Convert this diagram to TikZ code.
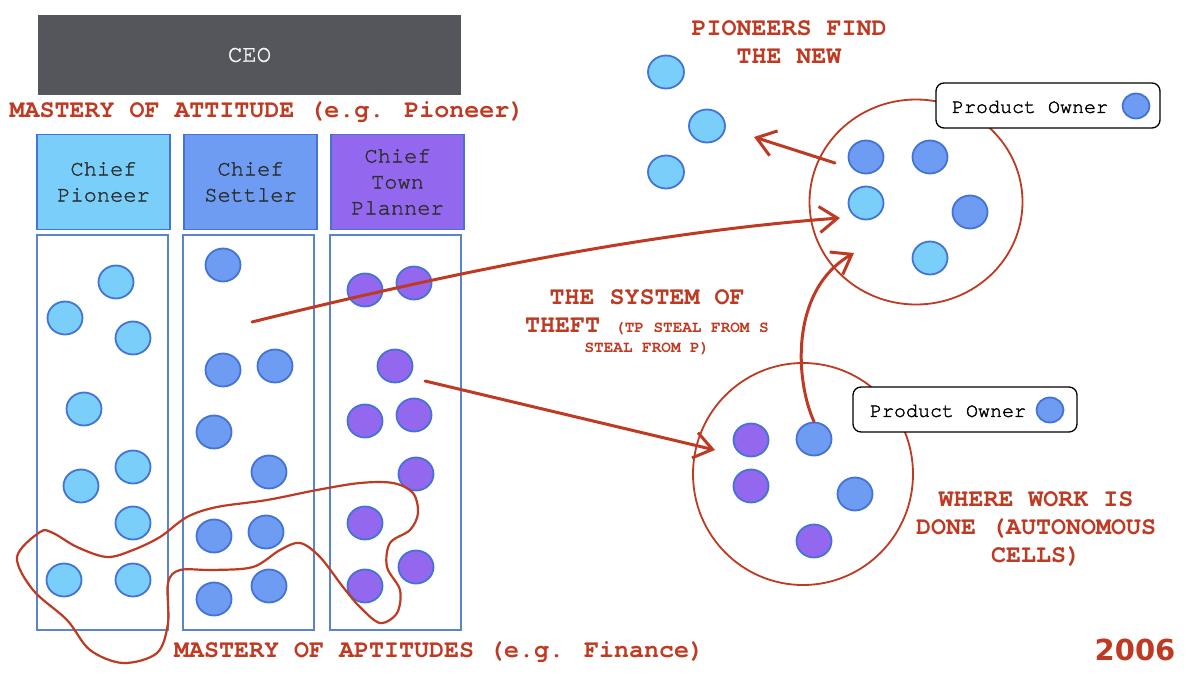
\documentclass[tikz,border=0pt]{standalone}
\usepackage{fontspec}
\setmainfont{TeX Gyre Cursor}
\newfontfamily\medfont{TeX Gyre Cursor}[FakeBold=1.6]
\newfontfamily\digitfont{DejaVu Sans}
\usetikzlibrary{arrows.meta,shapes.geometric}
\definecolor{ceogray}{HTML}{54565C}
\definecolor{pblue}{HTML}{79CFF9}
\definecolor{sblue}{HTML}{6D9CF2}
\definecolor{tpurple}{HTML}{9468EE}
\definecolor{dotline}{HTML}{4472D6}
\definecolor{colline}{HTML}{5B84CF}
\definecolor{rust}{HTML}{BE3A22}
\definecolor{chieftext}{HTML}{2E2E2E}
\begin{document}
\begin{tikzpicture}[x=1pt,y=-1pt,
  dotbase/.style={ellipse,draw=dotline,line width=1.8pt,minimum width=35pt,minimum height=33pt,inner sep=0pt},
  pdot/.style={dotbase,fill=pblue},
  sdot/.style={dotbase,fill=sblue},
  tdot/.style={dotbase,fill=tpurple},
  chiefbox/.style={draw=dotline,line width=1.8pt,minimum width=133pt,minimum height=95pt,align=center,
     text=chieftext,font=\medfont\fontsize{22}{26}\selectfont},
  colbox/.style={draw=colline,line width=1.3pt,minimum width=131pt,minimum height=395pt},
  redtext/.style={text=rust,font=\bfseries\fontsize{25}{28}\selectfont,align=center,inner sep=0pt},
  smallred/.style={text=rust,font=\bfseries\fontsize{16}{18}\selectfont,inner sep=0pt},
  cell/.style={ellipse,draw=rust,line width=1.8pt,inner sep=0pt},
  pobox/.style={draw=black,line width=1.3pt,rounded corners=8pt,fill=white,minimum width=224pt,minimum height=45pt},
  potext/.style={font=\medfont\fontsize{20}{24}\selectfont,inner sep=0pt},
  podot/.style={ellipse,draw=dotline,line width=1.8pt,fill=sblue,minimum width=27pt,minimum height=25pt,inner sep=0pt},
  sketch/.style={draw=rust,line width=3pt,line cap=round,line join=round},
  barb/.style={-{Straight Barb[length=18pt,width=26pt,line width=3pt]}}
]
\useasboundingbox[fill=white] (0,0) rectangle (1200,675);

% CEO
\node[fill=ceogray,minimum width=423pt,minimum height=80pt,text=white!92!gray,font=\medfont\fontsize{24}{26}\selectfont] (ceo) at (249.5,55) {CEO};
\node[redtext] (attitude) at (267,112) {MASTERY OF ATTITUDE (e.g. Pioneer)};

% chiefs
\node[chiefbox,fill=pblue] (cp) at (103.5,182) {Chief\\Pioneer};
\node[chiefbox,fill=sblue] (cs) at (250.5,182) {Chief\\Settler};
\node[chiefbox,fill=tpurple] (ct) at (397.5,182) {Chief\\Town\\Planner};

% columns
\node[colbox] (col1) at (102.5,432.5) {};
\node[colbox] (col2) at (248.5,432.5) {};
\node[colbox] (col3) at (395.5,432.5) {};

% pioneer dots
\node[pdot] (p1) at (116,282) {};
\node[pdot] (p2) at (65,318) {};
\node[pdot] (p3) at (133,338) {};
\node[pdot] (p4) at (84,409) {};
\node[pdot] (p5) at (133,467) {};
\node[pdot] (p6) at (81,486) {};
\node[pdot] (p7) at (133,523) {};
\node[pdot] (p8) at (64,580) {};
\node[pdot] (p9) at (133,580) {};

% settler dots
\node[sdot] (s1) at (223,265) {};
\node[sdot] (s2) at (223,370) {};
\node[sdot] (s3) at (275,366) {};
\node[sdot] (s4) at (214,432) {};
\node[sdot] (s5) at (269,472) {};
\node[sdot] (s6) at (214,536) {};
\node[sdot] (s7) at (266,532) {};
\node[sdot] (s8) at (214,599) {};
\node[sdot] (s9) at (269,586) {};

% town planner dots
\node[tdot] (t1) at (365,290) {};
\node[tdot] (t2) at (414,283) {};
\node[tdot] (t3) at (395,366) {};
\node[tdot] (t4) at (365,421) {};
\node[tdot] (t5) at (414,415) {};
\node[tdot] (t6) at (416,474) {};
\node[tdot] (t7) at (365,523) {};
\node[tdot] (t8) at (365,586) {};
\node[tdot] (t9) at (416,567) {};

% aptitude loop
\draw[draw=rust,line width=2.2pt] plot[smooth cycle,tension=0.55] coordinates {
 (40,532) (17,557) (33,590) (67,620) (90,650) (123,663) (157,653) (168,623) (168,583)
 (180,570) (213,570) (253,567) (280,550) (300,543) (320,557) (343,587) (360,607)
 (380,623) (397,613) (400,590) (387,567) (390,543) (410,530) (418,513) (413,493)
 (393,483) (360,483) (317,490) (267,500) (217,507) (187,517) (160,537) (133,550)
 (107,557) (77,547) (53,533)};

\node[redtext] (aptitudes) at (439,652) {MASTERY OF APTITUDES (e.g. Finance)};

% pioneers find the new
\node[redtext] (pioneers) at (789,42) {PIONEERS FIND\\THE NEW};
\node[pdot,minimum width=36pt,minimum height=33pt] (n1) at (666,72) {};
\node[pdot,minimum width=36pt,minimum height=33pt] (n2) at (707,126) {};
\node[pdot,minimum width=36pt,minimum height=33pt] (n3) at (666,172) {};

% top cell
\node[cell,minimum width=213pt,minimum height=205pt] (topcell) at (916,202) {};
\node[sdot] (c1) at (866,157) {};
\node[sdot] (c2) at (930,157) {};
\node[pdot] (c3) at (866,203) {};
\node[sdot] (c4) at (970,212) {};
\node[pdot] (c5) at (930,258) {};
\node[pobox] (po1) at (1048,105.5) {};
\node[potext] (po1t) at (1030,107) {Product Owner};
\node[podot] (po1d) at (1136,106) {};

% bottom cell
\node[cell,minimum width=220pt,minimum height=222pt] (botcell) at (803,474) {};
\node[tdot] (b1) at (751,440) {};
\node[sdot] (b2) at (814,439) {};
\node[tdot] (b3) at (751,486) {};
\node[sdot] (b4) at (855,494) {};
\node[tdot] (b5) at (814,541) {};
\node[pobox] (po2) at (965,409.5) {};
\node[potext] (po2t) at (948,411) {Product Owner};
\node[podot] (po2d) at (1050,410) {};

% theft text
\node[redtext,anchor=base] (theft1) at (647,304) {THE SYSTEM OF};
\node[redtext,anchor=base] (theft2) at (647,332) {THEFT {\fontsize{16}{18}\selectfont (TP STEAL FROM S}};
\node[smallred,anchor=base] (theft3) at (647,352) {STEAL FROM P)};

% where work is done
\node[redtext] (where) at (1036,529) {WHERE WORK IS\\DONE (AUTONOMOUS\\CELLS)};

\node[text=rust,font=\digitfont\bfseries\fontsize{29}{32}\selectfont,inner sep=0pt] (year) at (1135,650) {2006};

% connectors
\coordinate (a1s) at (252,322);
\coordinate (a1e) at (840,218);
\coordinate (a2s) at (835,163);
\coordinate (a2e) at (754,137);
\coordinate (a3e) at (854,253);
\coordinate (a4s) at (425,381);
\coordinate (a4e) at (715,450);
\draw[sketch,barb] (a1s) .. controls (450,273) and (650,232) .. (a1e);
\draw[sketch,barb] (a2s) -- (a2e);
\draw[sketch,barb] (b2.north) .. controls (795,380) and (790,290) .. (a3e);
\draw[sketch,barb] (a4s) -- (a4e);
\end{tikzpicture}
\end{document}
